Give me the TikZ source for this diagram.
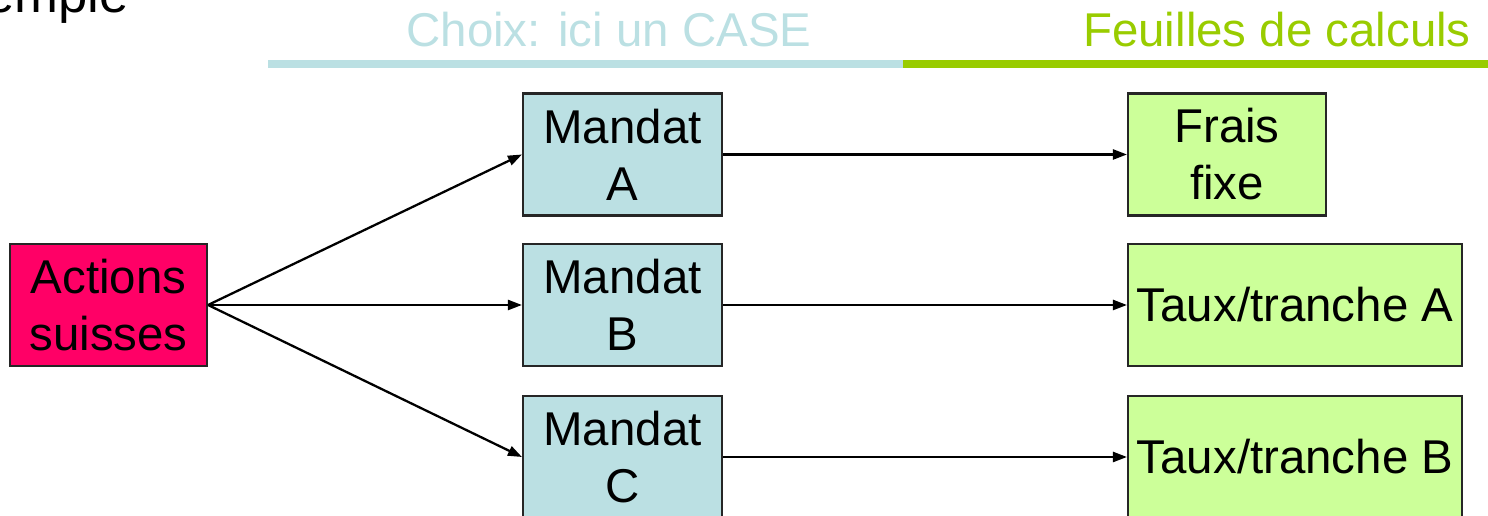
\documentclass[tikz,border=0pt]{standalone}
\usepackage{fontspec}
\setmainfont{Liberation Sans}
\usetikzlibrary{arrows.meta}

\definecolor{casebleu}{RGB}{187,224,227}
\definecolor{calcvert}{RGB}{204,255,153}
\definecolor{titrevert}{RGB}{153,204,0}
\definecolor{actionrose}{RGB}{255,0,102}

\begin{document}
\begin{tikzpicture}[x=0.02cm,y=0.02cm,
		boite/.style={draw=black!85,line width=1.2pt,inner sep=0pt,align=center,
			minimum height=2.44cm,font=\fontsize{27}{32.4}\selectfont},
		mandat/.style={boite,fill=casebleu,minimum width=3.98cm},
		calcul/.style={boite,fill=calcvert},
		fleche/.style={line width=1.3pt,-{Triangle[length=0.28cm,width=0.2cm]}}]
		\useasboundingbox (0,0) rectangle (1488,516);
		% titre et en-tetes
		\node[anchor=base east,font=\fontsize{30}{36}\selectfont] (titre) at (135,503) {Exemple};
		\fill[casebleu] (268,448) rectangle (903,456);
		\fill[titrevert] (903,448) rectangle (1488,456);
		\node[anchor=base,text=casebleu,font=\fontsize{27}{32.4}\selectfont] (choix) at (609,469) {Choix: ici un CASE};
		\node[anchor=base east,text=titrevert,font=\fontsize{27}{32.4}\selectfont] (feuilles) at (1477,469) {Feuilles de calculs};
		% boites
		\node[boite,fill=actionrose,minimum width=3.94cm] (actions) at (108.5,211) {Actions\\suisses};
		\node[mandat] (mandatA) at (622.5,361.5) {Mandat\\A};
		\node[mandat] (mandatB) at (622.5,211) {Mandat\\B};
		\node[mandat] (mandatC) at (622.5,59) {Mandat\\C};
		\node[calcul,minimum width=3.96cm] (frais) at (1227,361.5) {Frais\\fixe};
		\node[calcul,minimum width=6.68cm] (trancheA) at (1295,211) {Taux/tranche A};
		\node[calcul,minimum width=6.68cm] (trancheB) at (1295,59) {Taux/tranche B};
		% fleches
		\draw[fleche] (actions.east) -- (mandatA.west);
		\draw[fleche] (actions.east) -- (mandatB.west);
		\draw[fleche] (actions.east) -- (mandatC.west);
		\draw[fleche] (mandatA.east) -- (frais.west);
		\draw[fleche] (mandatB.east) -- (trancheA.west);
		\draw[fleche] (mandatC.east) -- (trancheB.west);
	\end{tikzpicture}
\end{document}
